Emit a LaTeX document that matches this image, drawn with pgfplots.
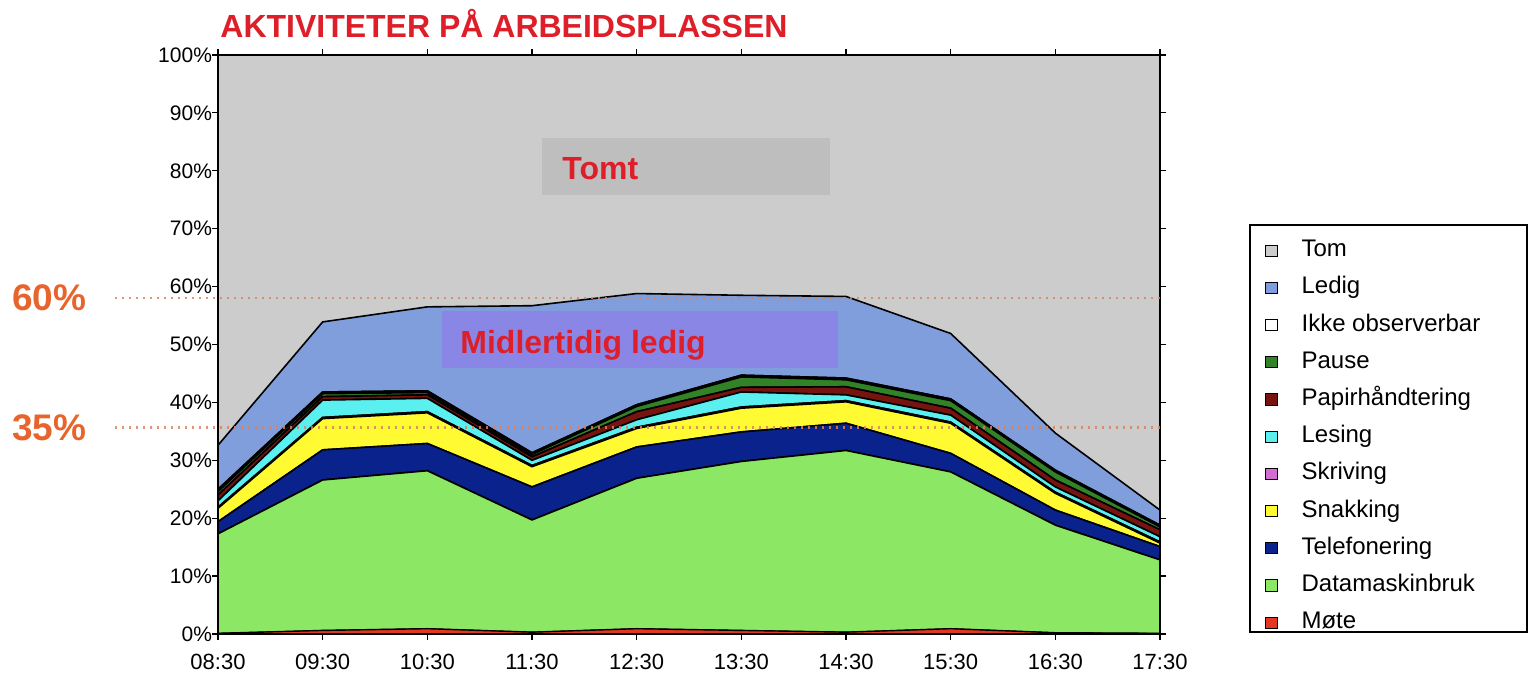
\documentclass[border=0pt]{standalone}
\usepackage{fontspec}
\setmainfont{Liberation Sans}
\usepackage{pgfplots}
\pgfplotsset{compat=1.18}

\definecolor{tomc}{RGB}{204,204,204}
\definecolor{ledigc}{RGB}{128,158,220}
\definecolor{pausec}{RGB}{50,130,40}
\definecolor{papirc}{RGB}{120,20,15}
\definecolor{lesingc}{RGB}{90,240,240}
\definecolor{skrivc}{RGB}{210,110,210}
\definecolor{snakkc}{RGB}{255,250,50}
\definecolor{telec}{RGB}{10,35,140}
\definecolor{datac}{RGB}{140,232,100}
\definecolor{motec}{RGB}{225,55,35}
\definecolor{titlered}{RGB}{222,30,40}
\definecolor{orangelab}{RGB}{232,100,45}
\definecolor{dotc}{RGB}{215,130,100}
\definecolor{tomtbox}{RGB}{190,190,190}
\definecolor{midbox}{RGB}{138,134,230}

\begin{document}
\begin{tikzpicture}[x=1pt,y=1pt]
\useasboundingbox (-109,-22.5) rectangle (655.5,317);
\begin{axis}[
  at={(0,0)}, anchor=south west,
  scale only axis, width=471pt, height=289.5pt,
  xmin=0, xmax=9, ymin=0, ymax=100,
  stack plots=y,
  xtick={0,...,9},
  xticklabels={08:30,09:30,10:30,11:30,12:30,13:30,14:30,15:30,\raisebox{-3pt}{16:30},17:30},
  ytick={0,10,...,100},
  yticklabel={\pgfmathprintnumber{\tick}\%},
  /pgf/number format/assume math mode=true,
  tick align=outside, major tick length=3pt,
  tick style={black, line width=0.6pt},
  xticklabel style={font=\fontsize{11}{13}\selectfont, yshift=-3.5pt},
  yticklabel style={font=\fontsize{10.5}{12}\selectfont, xshift=3.5pt},
  axis line style={black, line width=1pt},
  axis on top,
  reverse legend,
  legend image code/.code={\draw[#1,draw=black,line width=0.5pt] (0pt,-2.8pt) rectangle (5.6pt,2.8pt);},
  legend style={at={(1.0955,-0.0121)}, anchor=south west, draw=none, fill=none,
    font=\fontsize{12}{14}\selectfont, cells={anchor=west},
    nodes={inner sep=1pt, text height=9pt, text depth=3pt},
    row sep=4.6pt, column sep=11pt, inner xsep=7.5pt, inner ysep=2pt},
]
% Møte
\addplot[fill=motec, draw=black, line width=0.6pt] coordinates {(0,0.1)(1,0.6)(2,0.9)(3,0.3)(4,0.9)(5,0.6)(6,0.3)(7,0.9)(8,0.2)(9,0.1)} \closedcycle;
\addlegendentry{Møte}
% Datamaskinbruk
\addplot[fill=datac, draw=black, line width=0.8pt] coordinates {(0,17.2)(1,26.0)(2,27.3)(3,19.4)(4,26.0)(5,29.2)(6,31.4)(7,27.1)(8,18.6)(9,12.7)} \closedcycle;
\addlegendentry{Datamaskinbruk}
% Telefonering
\addplot[fill=telec, draw=black, line width=0.8pt] coordinates {(0,2.1)(1,5.2)(2,4.7)(3,5.7)(4,5.4)(5,5.1)(6,4.7)(7,3.2)(8,2.6)(9,2.3)} \closedcycle;
\addlegendentry{Telefonering}
% Snakking
\addplot[fill=snakkc, draw=black, line width=0.8pt] coordinates {(0,2.3)(1,5.4)(2,5.3)(3,3.5)(4,3.2)(5,4.1)(6,3.7)(7,5.2)(8,2.9)(9,0.6)} \closedcycle;
\addlegendentry{Snakking}
% Skriving
\addplot[fill=skrivc, draw=black, line width=0.8pt] coordinates {(0,0.2)(1,0.2)(2,0.2)(3,0.2)(4,0.2)(5,0.2)(6,0.2)(7,0.2)(8,0.2)(9,0.2)} \closedcycle;
\addlegendentry{Skriving}
% Lesing
\addplot[fill=lesingc, draw=black, line width=0.8pt] coordinates {(0,1.1)(1,3.0)(2,2.3)(3,0.9)(4,1.3)(5,2.6)(6,1.0)(7,1.2)(8,0.9)(9,0.9)} \closedcycle;
\addlegendentry{Lesing}
% Papirhåndtering
\addplot[fill=papirc, draw=black, line width=0.8pt] coordinates {(0,1.0)(1,0.6)(2,0.6)(3,0.6)(4,1.4)(5,0.8)(6,1.4)(7,1.2)(8,1.2)(9,1.2)} \closedcycle;
\addlegendentry{Papirhåndtering}
% Pause
\addplot[fill=pausec, draw=black, line width=0.8pt] coordinates {(0,0.6)(1,0.5)(2,0.4)(3,0.4)(4,0.9)(5,1.8)(6,1.2)(7,1.3)(8,1.4)(9,0.5)} \closedcycle;
\addlegendentry{Pause}
% Ikke observerbar
\addplot[fill=white, draw=black, line width=0.8pt] coordinates {(0,0.4)(1,0.3)(2,0.3)(3,0.3)(4,0.3)(5,0.3)(6,0.3)(7,0.3)(8,0.3)(9,0.3)} \closedcycle;
\addlegendentry{Ikke observerbar}
% Ledig
\addplot[fill=ledigc, draw=black, line width=0.8pt] coordinates {(0,7.6)(1,12.1)(2,14.5)(3,25.4)(4,19.2)(5,13.8)(6,14.1)(7,11.3)(8,6.4)(9,2.6)} \closedcycle;
\addlegendentry{Ledig}
% Tom
\addplot[fill=tomc, draw=none] coordinates {(0,67.4)(1,46.1)(2,43.5)(3,43.3)(4,41.2)(5,41.5)(6,41.7)(7,48.1)(8,65.3)(9,78.6)} \closedcycle;
\addlegendentry{Tom}
\end{axis}
% legend frame
\draw[black, line width=0.8pt] (516,1) rectangle (654.5,204.5);
% reference lines
\draw[dotc, line width=1.3pt, dash pattern=on 1.2pt off 2.3pt, opacity=0.85] (-51.5,167.9) -- (471,167.9);
\draw[dotc, line width=1.3pt, dash pattern=on 1.2pt off 2.3pt, opacity=0.85] (-51.5,103.1) -- (471,103.1);
\node[anchor=west, inner sep=0pt, text=orangelab, font=\bfseries\fontsize{18.5}{20}\selectfont] at (-103,168) {60\%};
\node[anchor=west, inner sep=0pt, text=orangelab, font=\bfseries\fontsize{18.5}{20}\selectfont] at (-103,103) {35\%};
% annotation boxes
\fill[tomtbox] (162,219.5) rectangle (306,248);
\node[anchor=base west, inner sep=0pt, text=titlered, font=\bfseries\fontsize{16}{18}\selectfont] at (172,227) {Tomt};
\fill[midbox] (112,133) rectangle (310,161.5);
\node[anchor=base west, inner sep=0pt, text=titlered, font=\bfseries\fontsize{16}{18}\selectfont] at (121,140) {Midlertidig ledig};
% title
\node[anchor=base west, inner sep=0pt, text=titlered, font=\bfseries\fontsize{16}{18}\selectfont] at (1,298) {AKTIVITETER PÅ ARBEIDSPLASSEN};
\end{tikzpicture}
\end{document}
